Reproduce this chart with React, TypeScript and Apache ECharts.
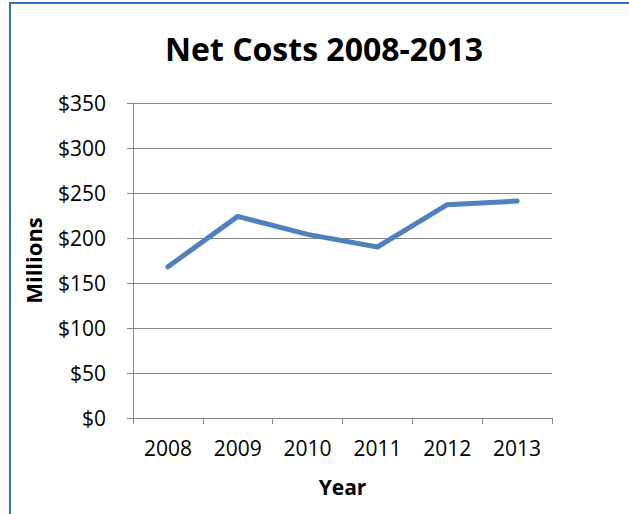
import React, { useEffect, useRef } from "react";
import * as echarts from "echarts";

const years = ["2008", "2009", "2010", "2011", "2012", "2013"];
const netCosts = [168, 224, 204, 190, 237, 241];
const yTicks = { min: 0, max: 350, interval: 50 };

export default function App() {
  const ref = useRef<HTMLDivElement>(null);
  useEffect(() => {
    const chart = echarts.init(ref.current!, null, { renderer: "svg" });
    const font = "'Open Sans', sans-serif";
    chart.setOption({
      animation: false,
      backgroundColor: "#ffffff",
      title: {
        text: "Net Costs 2008-2013",
        left: 319,
        top: 27,
        textAlign: "center",
        textStyle: { fontFamily: font, fontSize: 32, fontWeight: "bold", color: "#000" },
      },
      graphic: [
        {
          type: "rect",
          shape: { x: 10, y: 3, width: 700, height: 600 },
          style: { fill: "none", stroke: "#2E75B6", lineWidth: 2 },
          silent: true,
          z: 100,
        },
      ],
      grid: { left: 133, top: 103, width: 419, height: 315, containLabel: false },
      xAxis: {
        type: "category",
        data: years,
        boundaryGap: true,
        name: "Year",
        nameLocation: "middle",
        nameGap: 58,
        nameTextStyle: { fontFamily: font, fontSize: 21, fontWeight: "bold", color: "#000" },
        axisLine: { lineStyle: { color: "#868686", width: 1 } },
        axisTick: { show: true, length: 6, alignWithLabel: false, lineStyle: { color: "#868686" } },
        axisLabel: { fontFamily: font, fontSize: 21, color: "#000", margin: 19 },
        splitLine: { show: false },
      },
      yAxis: {
        type: "value",
        min: yTicks.min,
        max: yTicks.max,
        interval: yTicks.interval,
        name: "Millions",
        nameLocation: "middle",
        nameRotate: 90,
        nameGap: 89,
        nameTextStyle: { fontFamily: font, fontSize: 22, fontWeight: "bold", color: "#000" },
        axisLine: { show: true, lineStyle: { color: "#868686", width: 1 } },
        axisTick: { show: true, length: 6, lineStyle: { color: "#868686" } },
        axisLabel: {
          fontFamily: font,
          fontSize: 21,
          color: "#000",
          margin: 27,
          formatter: (v: number) => "$" + v,
        },
        splitLine: { show: true, lineStyle: { color: "#868686", width: 1 } },
      },
      series: [
        {
          type: "line",
          data: netCosts,
          showSymbol: false,
          symbol: "none",
          lineStyle: { color: "#4F81BD", width: 5, cap: "round", join: "round" },
          itemStyle: { color: "#4F81BD" },
        },
      ],
    });
    return () => chart.dispose();
  }, []);
  return (
    <div
      ref={ref}
      style={{ position: "fixed", left: 0, top: 0, width: 629, height: 514, background: "#fff" }}
    />
  );
}
